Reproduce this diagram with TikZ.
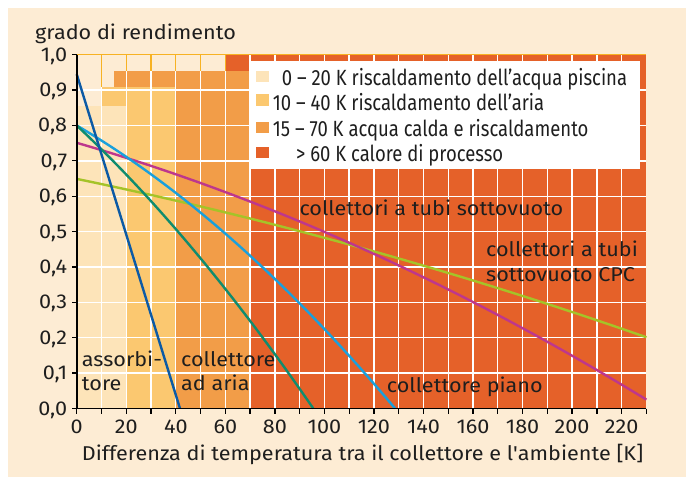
\documentclass[tikz,border=0pt]{standalone}
\usepackage{fontspec}
\setmainfont{Fira Sans}
\definecolor{bgbeige}{RGB}{253,236,212}
\definecolor{zoneA}{RGB}{253,228,185}
\definecolor{zoneB}{RGB}{251,200,112}
\definecolor{zoneC}{RGB}{242,157,72}
\definecolor{zoneD}{RGB}{229,97,41}
\definecolor{gridorange}{RGB}{247,178,35}
\definecolor{cAbs}{RGB}{12,90,165}
\definecolor{cAir}{RGB}{16,140,110}
\definecolor{cFlat}{RGB}{25,160,220}
\definecolor{cVac}{RGB}{190,55,140}
\definecolor{cCPC}{RGB}{165,195,40}
\definecolor{txt}{RGB}{30,30,30}
\begin{document}
\begin{tikzpicture}[x=1pt,y=-1pt,
  lbl/.style={inner sep=0pt, anchor=base west, text=txt, xscale=1.08, font=\fontsize{20}{24}\selectfont},
  leglbl/.style={inner sep=0pt, anchor=base west, text=txt, xscale=0.84, font=\fontsize{22}{26}\selectfont},
  ticklbl/.style={inner sep=0pt, text=txt, xscale=1.08, font=\fontsize{20}{24}\selectfont},
  gridw/.style={white, line width=1.4pt},
  grido/.style={gridorange, line width=1.4pt},
  curve/.style={line width=2.4pt, line join=round},
  axis/.style={black, line width=1.8pt},
  tick/.style={black, line width=1.3pt}]
\useasboundingbox (0,0) rectangle (686,477);
\fill[white] (0,0) rectangle (686,477);
\fill[bgbeige] (8,8) rectangle (686,477);
\begin{scope}[shift={(76.7,408.5)}, x=2.477pt, y=353.8pt]
  % zones
  \fill[zoneD] (60,0) rectangle (230,1);
  \fill[zoneC] (15,0) rectangle (70,0.955);
  \fill[zoneB] (10,0) rectangle (40,0.91);
  \fill[zoneA] (0,0) rectangle (20,0.855);
  % grid
  \foreach \k in {20,30,40,50,60} {
    \draw[gridw] (\k,0) -- (\k,0.955);
    \draw[grido] (\k,0.955) -- (\k,1);
  }
  \draw[gridw] (10,0) -- (10,0.91);
  \draw[grido] (10,0.91) -- (10,1);
  \foreach \k in {70,80,...,220} \draw[gridw] (\k,0) -- (\k,1);
  \foreach \i in {1,...,9} \draw[gridw] (0,\i/10) -- (230,\i/10);
  \draw[grido] (0,1) -- (230,1);
  % curves
  \draw[curve, cCPC] plot[domain=0:230, samples=60, smooth] (\x, {0.649-0.00145*\x-0.0216*(\x/100)*(\x/100)});
  \draw[curve, cVac] plot[domain=0:230, samples=60, smooth] (\x, {0.751-0.00203*\x-0.049*(\x/100)*(\x/100)});
  \draw[curve, cFlat] plot[domain=0:128.5, samples=50, smooth] (\x, {0.8-0.004107*\x-0.1649*(\x/100)*(\x/100)});
  \draw[curve, cAir] plot[domain=0:95.5, samples=50, smooth] (\x, {0.8-0.00656*\x-0.19*(\x/100)*(\x/100)});
  \draw[curve, cAbs] (0,0.945) -- (41.7,0);
  % axes
  \draw[axis] (0,1) -- (0,0) -- (230,0);
  \foreach \k in {0,10,...,230} \draw[tick] (\k,0) -- ++(0pt,-5pt);
  \foreach \i in {0,...,10} \draw[tick] (0,\i/10) -- ++(-5pt,0pt);
  % tick labels
  \foreach \k in {0,20,...,220}
    \node[ticklbl, anchor=base, yshift=-24.5pt] (xt\k) at (\k,0) {\k};
  \foreach \i in {0,...,10}
    \node[ticklbl, anchor=base east, xshift=-8.7pt, yshift=-6.5pt] (yt\i) at (0,\i/10) {\ifnum\i=10 1,0\else 0,\i\fi};
\end{scope}
% legend
\fill[white] (250.7,60.7) rectangle (640,169.3);
\fill[zoneA] (256,70.7) rectangle (269.3,81.7);
\fill[zoneB] (256,94.3) rectangle (269.3,106);
\fill[zoneC] (256,121.7) rectangle (269.3,132.7);
\fill[zoneD] (256,147.3) rectangle (269.3,158.3);
\node[leglbl] (leg1) at (281.7,85.5) {0 – 20 K riscaldamento dell’acqua piscina};
\node[leglbl] (leg2) at (272.7,110.5) {10 – 40 K riscaldamento dell’aria};
\node[leglbl] (leg3) at (272.7,136) {15 – 70 K acqua calda e riscaldamento};
\node[leglbl] (leg4) at (296,161) {> 60 K calore di processo};
% titles
\node[lbl] (title) at (35,39.3) {grado di rendimento};
\node[lbl] (xlabel) at (81.7,460) {Differenza di temperatura tra il collettore e l\textquotesingle ambiente [K]};
% curve labels
\node[lbl] (abs1) at (81.7,366.7) {assorbi-};
\node[lbl] (abs2) at (81.7,390.7) {tore};
\node[lbl] (air1) at (181,366.7) {collettore};
\node[lbl] (air2) at (181,390.7) {ad aria};
\node[lbl] (flat) at (386.7,392.7) {collettore piano};
\node[lbl] (vac) at (299.3,215) {collettori a tubi sottovuoto};
\node[lbl] (cpc1) at (486,256.7) {collettori a tubi};
\node[lbl] (cpc2) at (486,281) {sottovuoto CPC};
\end{tikzpicture}
\end{document}
